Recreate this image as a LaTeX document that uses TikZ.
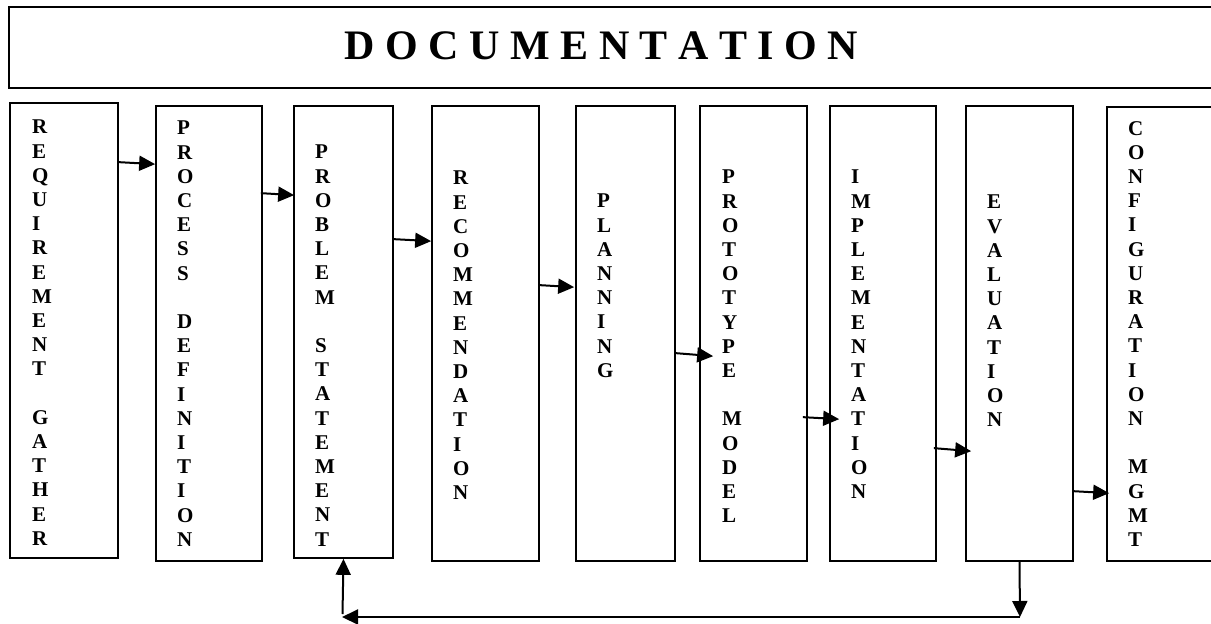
\documentclass[tikz,border=0pt]{standalone}
\usepackage{fontspec}
\setmainfont{Liberation Serif}
\usetikzlibrary{arrows.meta,calc}
\tikzset{
  stage/.style={draw=black, line width=1.7pt, inner sep=0pt, rectangle},
  banner/.style={draw=black, line width=1.7pt, inner sep=0pt, rectangle},
  letters/.style={anchor=north west, inner sep=0pt, align=left,
    font=\fontsize{21}{24.2}\selectfont\bfseries},
  flow/.style={line width=2pt, -{Triangle[length=16pt,width=15pt]}},
  plain/.style={line width=2pt}
}
\newcommand{\stagebox}[5]{%
  \node[stage, minimum width={#4-#2}, minimum height={#5-#3}] (#1) at ({(#2+#4)/2},{(#3+#5)/2}) {};}
\begin{document}
\begin{tikzpicture}[x=1pt,y=-1pt]
\path[use as bounding box] (0,0) rectangle (1211,624);
\clip (0,0) rectangle (1211,624);
% banner
\node[banner, minimum width=1230, minimum height=81] (doc) at (624,47.5) {};
\node[anchor=base, inner sep=0pt, font=\fontsize{42}{48}\selectfont\bfseries] (doct) at (601.5,59.5) {D O C U M E N T A T I O N};
% stage boxes
\stagebox{b1}{10}{103}{118}{558}
\stagebox{b2}{156}{106}{262}{561}
\stagebox{b3}{294}{106}{393}{558}
\stagebox{b4}{432}{106}{539}{561}
\stagebox{b5}{576}{106}{675}{561}
\stagebox{b6}{700}{106}{807}{561}
\stagebox{b7}{830}{106}{936}{561}
\stagebox{b8}{966}{106}{1073}{561}
\stagebox{b9}{1107}{107}{1230}{561}
% vertical labels
\node[letters] (t1) at (32,120) {R\\E\\Q\\U\\I\\R\\E\\M\\E\\N\\T\\~\\G\\A\\T\\H\\E\\R};
\node[letters] (t2) at (177,121) {P\\R\\O\\C\\E\\S\\S\\~\\D\\E\\F\\I\\N\\I\\T\\I\\O\\N};
\node[letters] (t3) at (315,145) {P\\R\\O\\B\\L\\E\\M\\~\\S\\T\\A\\T\\E\\M\\E\\N\\T};
\node[letters] (t4) at (453,171) {R\\E\\C\\O\\M\\M\\E\\N\\D\\A\\T\\I\\O\\N};
\node[letters] (t5) at (597,194) {P\\L\\A\\N\\N\\I\\N\\G};
\node[letters] (t6) at (722,170) {P\\R\\O\\T\\O\\T\\Y\\P\\E\\~\\M\\O\\D\\E\\L};
\node[letters] (t7) at (851,170) {I\\M\\P\\L\\E\\M\\E\\N\\T\\A\\T\\I\\O\\N};
\node[letters] (t8) at (987,195) {E\\V\\A\\L\\U\\A\\T\\I\\O\\N};
\node[letters] (t9) at (1128,121) {C\\O\\N\\F\\I\\G\\U\\R\\A\\T\\I\\O\\N\\~\\M\\G\\M\\T};
% forward arrows
\draw[flow] ($(b1.north east)+(0,60)$) -- ($(b2.north west)+(0,59)$);
\draw[flow] ($(b2.north east)+(-2,88)$) -- ($(b3.north west)+(1,90)$);
\draw[flow] ($(b3.north east)+(0,134)$) -- ($(b4.north west)+(0,136)$);
\draw[flow] ($(b4.north east)+(0,180)$) -- ($(b5.north west)+(-1,182)$);
\draw[flow] ($(b5.north east)+(0,248)$) -- ($(b6.north west)+(14,251)$);
\draw[flow] ($(b6.north east)+(-5,312)$) -- ($(b7.north west)+(10,314)$);
\draw[flow] ($(b7.north east)+(-3,343)$) -- ($(b8.north west)+(6,346)$);
\draw[flow] ($(b8.north east)+(-1,386)$) -- ($(b9.north west)+(3,387)$);
% feedback loop
\coordinate (fr) at (1020,617);
\coordinate (fl) at (342,617);
\coordinate (fu) at (342.5,614);
\draw[flow] (b8.south) -- (fr);
\draw[flow] (fr) -- (fl);
\draw[flow] (fu) -- (b3.south);
\end{tikzpicture}
\end{document}
